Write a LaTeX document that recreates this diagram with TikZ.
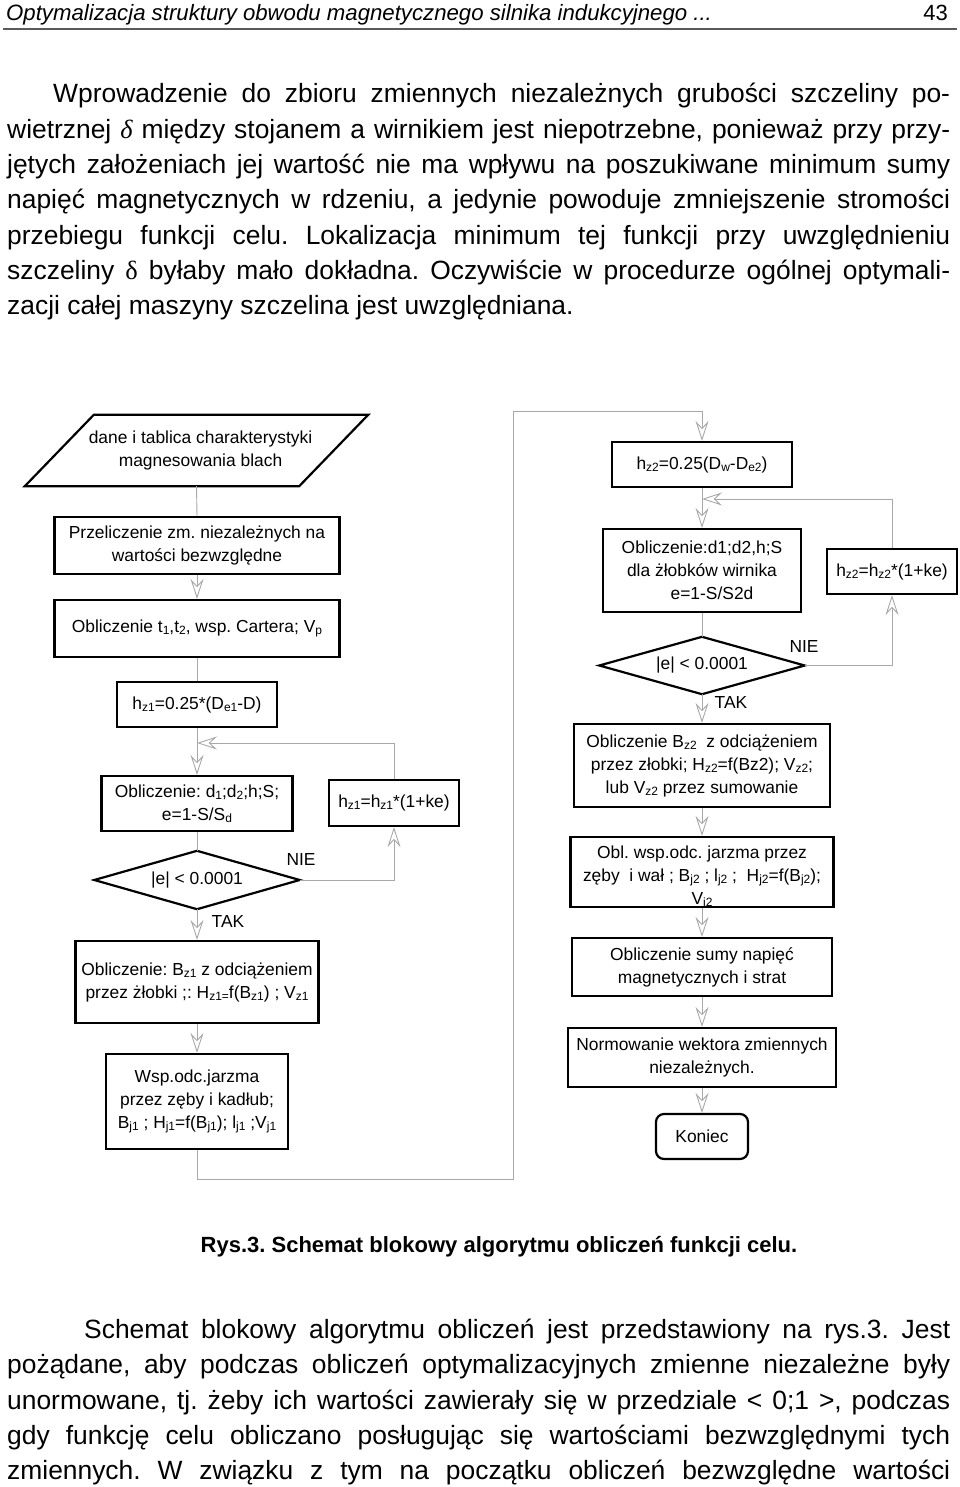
\documentclass[tikz,border=0pt]{standalone}
\usepackage{fontspec}
\setmainfont{Liberation Sans}
\newfontfamily\serifgr{Liberation Serif}
\usetikzlibrary{arrows.meta,shapes.geometric}
\definecolor{linegray}{RGB}{168,168,168}
\definecolor{rulegray}{RGB}{90,90,90}
\frenchspacing
\newcommand{\sbs}[1]{\raisebox{-0.12em}{\fontsize{12}{12}\selectfont #1}}
\newcommand{\dgfont}{\fontsize{17.4}{23}\selectfont}
\newcommand{\ptfont}{\fontsize{26.4}{35}\selectfont}
\tikzset{
  box/.style={draw=black, line width=2.2pt, inner sep=0pt, align=center, font=\dgfont},
  dtext/.style={inner sep=0pt, align=center, font=\dgfont},
  conn/.style={draw=linegray, line width=0.9pt},
  arr/.style={conn, -{Stealth[open, length=20pt, width=13pt, inset=7pt]}},
  lbl/.style={inner sep=0pt, font=\dgfont},
  pline/.style={anchor=base west, inner sep=0pt, font=\ptfont},
  outline/.style={draw=black, line width=2.2pt},
}
\begin{document}
\begin{tikzpicture}[x=1pt,y=-1pt]
\useasboundingbox (0,0) rectangle (960,1487);
% header
\node[anchor=base west, inner sep=0pt, font=\fontsize{22.2}{22}\selectfont\itshape] (hdr) at (6,21) {Optymalizacja struktury obwodu magnetycznego silnika indukcyjnego ...};
\node[anchor=base east, inner sep=0pt, font=\fontsize{22}{22}\selectfont] (pg) at (948,21) {43};
\draw[rulegray, line width=1.5pt] (3,29) -- (957,29);
% paragraph 1
\node[pline] (p1a) at (53,103) {\makebox[897pt][s]{Wprowadzenie do zbioru zmiennych niezależnych grubości szczeliny po-}};
\node[pline] (p1b) at (7,138.3) {\makebox[943pt][s]{wietrznej {\serifgr\itshape δ} między stojanem a wirnikiem jest niepotrzebne, ponieważ przy przy-}};
\node[pline] (p1c) at (7,173.6) {\makebox[943pt][s]{jętych założeniach jej wartość nie ma wpływu na poszukiwane minimum sumy}};
\node[pline] (p1d) at (7,208.9) {\makebox[943pt][s]{napięć magnetycznych w rdzeniu, a jedynie powoduje zmniejszenie stromości}};
\node[pline] (p1e) at (7,244.2) {\makebox[943pt][s]{przebiegu funkcji celu. Lokalizacja minimum tej funkcji przy uwzględnieniu}};
\node[pline] (p1f) at (7,279.5) {\makebox[943pt][s]{szczeliny {\serifgr δ} byłaby mało dokładna. Oczywiście w procedurze ogólnej optymali-}};
\node[pline] (p1g) at (7,314.8) {zacji całej maszyny szczelina jest uwzględniana.};
% diagram left column
\node[dtext, minimum width=343pt, minimum height=71pt] (par) at (196.5,450.5) {\hspace*{8pt}dane i tablica charakterystyki\\\hspace*{8pt}magnesowania blach};
\draw[outline] ([xshift=69pt]par.north west) -- (par.north east) -- ([xshift=-69pt]par.south east) -- (par.south west) -- cycle;
\node[box, minimum width=285pt, minimum height=57pt] (prz) at (197,545.5) {Przeliczenie zm. niezależnych na\\wartości bezwzględne};
\node[box, minimum width=285pt, minimum height=57pt] (obt) at (197,628.5) {Obliczenie t\sbs{1},t\sbs{2}, wsp. Cartera; V\sbs{p}};
\node[box, minimum width=160pt, minimum height=45pt] (hz1) at (197,704.5) {h\sbs{z1}=0.25*(D\sbs{e1}-D)};
\node[box, minimum width=191pt, minimum height=55pt] (obd1) at (197,803.5) {Obliczenie: d\sbs{1};d\sbs{2};h;S;\\e=1-S/S\sbs{d}};
\node[box, minimum width=130pt, minimum height=46pt] (hk1) at (394,803) {h\sbs{z1}=h\sbs{z1}*(1+ke)};
\node[dtext, minimum width=205pt, minimum height=58pt] (dia1) at (197,880) {|e| < 0.0001};
\draw[outline] (dia1.north) -- (dia1.east) -- (dia1.south) -- (dia1.west) -- cycle;
\node[box, minimum width=243pt, minimum height=82pt] (bz1) at (197,982) {Obliczenie: B\sbs{z1} z odciążeniem\\przez żłobki ;: H\sbs{z1=}f(B\sbs{z1}) ; V\sbs{z1}};
\node[box, minimum width=182pt, minimum height=95pt] (wsp) at (197,1101.5) {Wsp.odc.jarzma\\przez zęby i kadłub;\\B\sbs{j1} ; H\sbs{j1}=f(B\sbs{j1}); l\sbs{j1} ;V\sbs{j1}};
\node[lbl] (nie1) at (301,860) {NIE};
\node[lbl] (tak1) at (228,922) {TAK};
% right column
\node[box, minimum width=180pt, minimum height=45pt] (hz2) at (702,464.5) {h\sbs{z2}=0.25(D\sbs{w}-D\sbs{e2})};
\node[box, minimum width=198pt, minimum height=83pt] (obd2) at (702,570.5) {Obliczenie:d1;d2,h;S\\dla żłobków wirnika\\\hspace*{20pt}e=1-S/S2d};
\node[box, minimum width=130pt, minimum height=45pt] (hk2) at (892,571.5) {h\sbs{z2}=h\sbs{z2}*(1+ke)};
\node[dtext, minimum width=205pt, minimum height=57pt] (dia2) at (702,665.5) {|e| < 0.0001};
\draw[outline] (dia2.north) -- (dia2.east) -- (dia2.south) -- (dia2.west) -- cycle;
\node[lbl] (nie2) at (804,647) {NIE};
\node[lbl] (tak2) at (731,703) {TAK};
\node[box, minimum width=256pt, minimum height=83pt] (bz2) at (702,765.5) {Obliczenie B\sbs{z2}\ \ z odciążeniem\\przez złobki; H\sbs{z2}=f(Bz2); V\sbs{z2};\\lub V\sbs{z2} przez sumowanie};
\node[box, minimum width=263pt, minimum height=70pt] (obw) at (702,872) {};
\begin{scope}
\clip ([xshift=1.2pt,yshift=1.2pt]obw.south west) rectangle ([xshift=-1.2pt,yshift=-1.2pt]obw.north east);
\node[dtext] (obwt) at (702,877.5) {Obl. wsp.odc. jarzma przez\\zęby\ \ i wał ; B\sbs{j2} ; l\sbs{j2} ;\ \ H\sbs{j2}=f(B\sbs{j2});\\V\sbs{j2}};
\end{scope}
\node[box, minimum width=260pt, minimum height=58pt] (sum) at (702,967) {Obliczenie sumy napięć\\magnetycznych i strat};
\node[box, minimum width=268pt, minimum height=59pt] (nor) at (702,1057.5) {Normowanie wektora zmiennych\\niezależnych.};
\node[box, rounded corners=8pt, minimum width=92pt, minimum height=45pt] (kon) at (702,1136.5) {Koniec};
% connectors
\coordinate (j1) at (197,743);
\coordinate (j2) at (702,499);
\coordinate (c1) at (513,1179);
\coordinate (c2) at (513,411);
\draw[conn] (par.south) -- (prz.north);
\draw[arr] (prz) -- (obt);
\draw[conn] (obt) -- (hz1);
\draw[arr] (hz1) -- (obd1);
\draw[arr] (hk1.north) |- (j1);
\draw[conn] (obd1) -- (dia1);
\draw[arr] (dia1.east) -| (hk1.south);
\draw[arr] (dia1) -- (bz1);
\draw[arr] (bz1) -- (wsp);
\draw[arr] (wsp.south) |- (c1) -- (c2) -| (hz2.north);
\draw[arr] (hz2) -- (obd2);
\draw[arr] (hk2.north) |- (j2);
\draw[conn] (obd2) -- (dia2);
\draw[arr] (dia2.east) -| (hk2.south);
\draw[arr] (dia2) -- (bz2);
\draw[arr] (bz2) -- (obw);
\draw[arr] (obw) -- (sum);
\draw[arr] (sum) -- (nor);
\draw[arr] (nor) -- (kon);
% caption
\node[anchor=base, inner sep=0pt, font=\fontsize{22}{22}\selectfont\bfseries] (cap) at (499,1252) {Rys.3. Schemat blokowy algorytmu obliczeń funkcji celu.};
% paragraph 2
\node[pline] (p2a) at (84,1338.5) {\makebox[866pt][s]{Schemat blokowy algorytmu obliczeń jest przedstawiony na rys.3. Jest}};
\node[pline] (p2b) at (7,1373.8) {\makebox[943pt][s]{pożądane, aby podczas obliczeń optymalizacyjnych zmienne niezależne były}};
\node[pline] (p2c) at (7,1409.1) {\makebox[943pt][s]{unormowane, tj. żeby ich wartości zawierały się w przedziale < 0;1 >, podczas}};
\node[pline] (p2d) at (7,1444.4) {\makebox[943pt][s]{gdy funkcję celu obliczano posługując się wartościami bezwzględnymi tych}};
\node[pline] (p2e) at (7,1479.7) {\makebox[943pt][s]{zmiennych. W związku z tym na początku obliczeń bezwzględne wartości}};
\end{tikzpicture}
\end{document}
